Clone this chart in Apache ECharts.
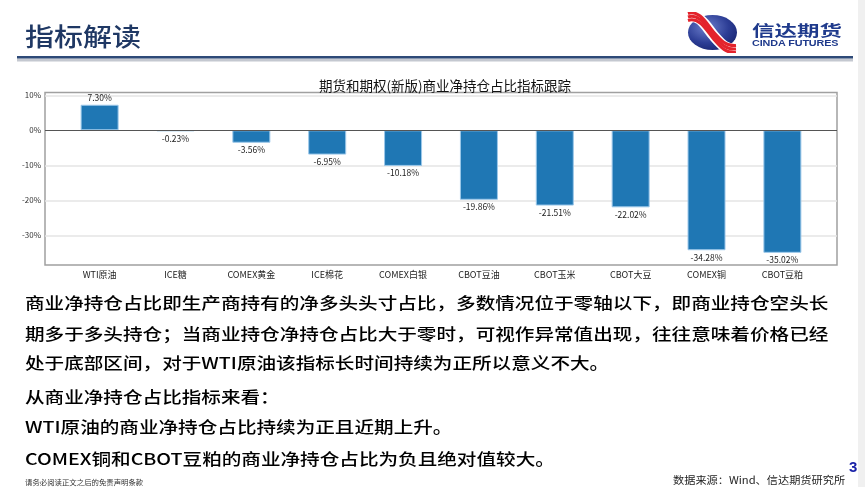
<!DOCTYPE html>
<html>
<head>
<meta charset="utf-8">
<script src="https://cdn.jsdelivr.net/npm/echarts@6/dist/echarts.min.js"></script>
<style>
html,body{margin:0;padding:0;background:#fff;width:865px;height:487px;overflow:hidden;}
#chart{position:absolute;left:0;top:0;width:865px;height:487px;}
.t{position:absolute;white-space:nowrap;font-family:"Noto Sans CJK SC",sans-serif;transform-origin:0 50%;}
.body{font-size:19.6px;line-height:20px;height:20px;color:#000;font-weight:500;left:25px;transform:scaleY(0.82);}
</style>
</head>
<body>
<svg style="position:absolute;left:0;top:0" width="865" height="487">
  <defs>
    <radialGradient id="g" cx="0.38" cy="0.35" r="0.75">
      <stop offset="0" stop-color="#6d7fcc"/>
      <stop offset="0.6" stop-color="#2c3d95"/>
      <stop offset="1" stop-color="#17236e"/>
    </radialGradient>
    <clipPath id="c"><rect x="686" y="12" width="52" height="41"/></clipPath>
  </defs>
  <rect x="858" y="0" width="7" height="487" fill="#f0f0f0"/>
  <rect x="17" y="58.5" width="836" height="3" fill="#c4c8d0"/>
  <rect x="17" y="56" width="836" height="2.5" fill="#2e4a78"/>
  <ellipse cx="712.5" cy="32.5" rx="24.5" ry="17.5" fill="url(#g)"/>
  <g clip-path="url(#c)" fill="none">
    <path d="M688 17 C700 13, 707 28, 714 36 S 726 50, 736 49" stroke="#fff" stroke-width="11"/>
    <path d="M688 13.5 C700 9.5, 707 24.5, 714 32.5 S 726 46.5, 736 45.5" stroke="#e3232c" stroke-width="3"/>
    <path d="M688 17 C700 13, 707 28, 714 36 S 726 50, 736 49" stroke="#e3232c" stroke-width="3"/>
    <path d="M688 20.5 C700 16.5, 707 31.5, 714 39.5 S 726 53.5, 736 52.5" stroke="#e3232c" stroke-width="3"/>
  </g>
</svg>
<div id="chart"></div>
<div class="t" style="left:25px;top:18px;font-size:29px;line-height:34px;color:#1f3864;font-weight:500;transform:scaleY(0.88);">指标解读</div>
<div class="t" style="left:752px;top:17px;font-size:22.5px;line-height:25px;color:#1f3a8c;font-weight:700;transform:scaleY(0.68);">信达期货</div>
<div class="t" style="left:752px;top:37px;font-size:10.8px;line-height:13px;color:#1f3a8c;font-weight:700;font-family:'Liberation Sans',Arial,sans-serif;letter-spacing:-0.1px;transform:scaleY(0.85);">CINDA FUTURES</div>

<div class="t body" style="top:291.7px;">商业净持仓占比即生产商持有的净多头头寸占比，多数情况位于零轴以下，即商业持仓空头长</div>
<div class="t body" style="top:322.7px;">期多于多头持仓；当商业持仓净持仓占比大于零时，可视作异常值出现，往往意味着价格已经</div>
<div class="t body" style="top:351.7px;">处于底部区间，对于WTI原油该指标长时间持续为正所以意义不大。</div>
<div class="t body" style="top:386px;">从商业净持仓占比指标来看：</div>
<div class="t body" style="top:416px;">WTI原油的商业净持仓占比持续为正且近期上升。</div>
<div class="t body" style="top:447.7px;">COMEX铜和CBOT豆粕的商业净持仓占比为负且绝对值较大。</div>

<div class="t" style="left:25px;top:477px;font-size:7.4px;line-height:9px;color:#333;">请务必阅读正文之后的免责声明条款</div>
<div class="t" style="left:673px;top:472px;font-size:11.2px;line-height:14px;color:#222;transform:scaleY(0.9);">数据来源：Wind、信达期货研究所</div>
<div class="t" style="left:849px;top:458px;font-size:15px;line-height:17px;color:#1a22a8;font-weight:700;font-family:'Liberation Sans',Arial,sans-serif;transform:scaleY(0.95);">3</div>

<script>
var chartTitle = '期货和期权(新版)商业净持仓占比指标跟踪';
var categories = ['WTI原油','ICE糖','COMEX黄金','ICE棉花','COMEX白银','CBOT豆油','CBOT玉米','CBOT大豆','COMEX铜','CBOT豆粕'];
var values = [7.30, -0.23, -3.56, -6.95, -10.18, -19.86, -21.51, -22.02, -34.28, -35.02];
var yTicks = [-30, -20, -10, 0, 10];

var chart = echarts.init(document.getElementById('chart'), null, {renderer:'canvas'});
var positions = categories.map(function(c, i){ return i; });
var font = '"Noto Sans CJK SC", sans-serif';
chart.setOption({
  animation: false,
  title: {
    text: chartTitle, left: 440, top: 74, textAlign: 'center',
    textStyle: {fontFamily: font, fontSize: 13.5, fontWeight: 'normal', color: '#111'}
  },
  grid: {left: 45, right: 28, top: 92.5, bottom: 222, show: true, borderColor: '#a0a0a0', borderWidth: 1.5, backgroundColor: 'transparent'},
  xAxis: {
    type: 'value', min: -0.72, max: 9.72,
    axisLine: {show: false, onZero: false},
    splitLine: {show: false},
    axisTick: {show: false},
    axisLabel: {customValues: positions, formatter: function(v){ return categories[Math.round(v)]; },
      fontFamily: font, fontSize: 9, color: '#222', margin: 5}
  },
  yAxis: {
    type: 'value', min: -38.5, max: 10.8,
    axisLine: {show: false},
    axisTick: {show: false},
    axisLabel: {customValues: yTicks, formatter: function(v){ return v + '%'; },
      fontFamily: font, fontSize: 8, color: '#333', margin: 4},
    splitLine: {show: false}
  },
  series: [{
    type: 'line', data: [], z: 1, silent: true,
    markLine: {
      z: 1, silent: true, symbol: 'none', label: {show: false}, animation: false,
      lineStyle: {color: '#e4e4e4', type: 'solid', width: 1.5},
      data: yTicks.filter(function(t){ return t !== 0; }).map(function(t){ return {yAxis: t}; })
    }
  }, {
    type: 'bar', z: 3,
    data: values.map(function(v, i){ return [positions[i], v]; }),
    barWidth: 38,
    itemStyle: {color: '#1f77b4', borderColor: '#9cc8ea', borderWidth: 1},
    label: {
      show: true,
      position: 'outside',
      formatter: function(p){ return p.value[1].toFixed(2) + '%'; },
      fontFamily: font, fontSize: 8.5, color: '#222', distance: 3
    },
    markLine: {
      z: 6, silent: true, symbol: 'none', label: {show: false}, animation: false,
      lineStyle: {color: '#555', type: 'solid', width: 1},
      data: [{yAxis: 0}]
    }
  }]
});
</script>
</body>
</html>
